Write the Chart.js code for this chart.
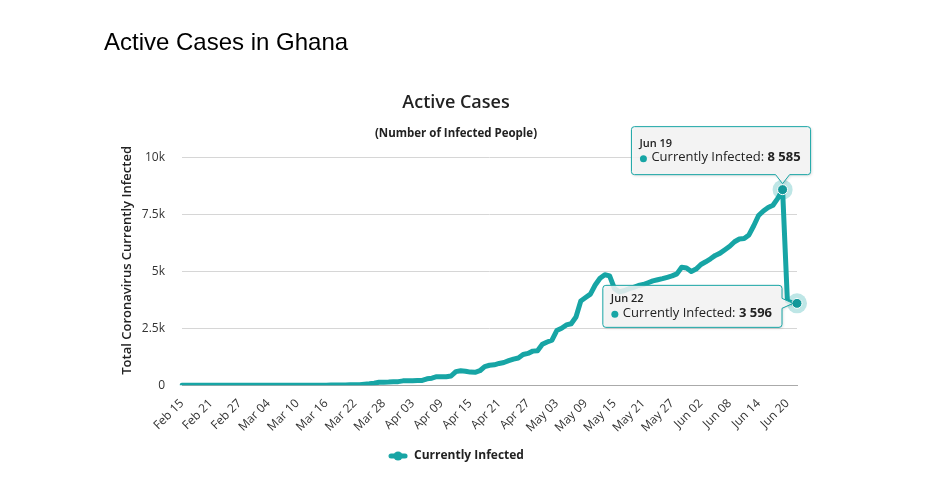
<!DOCTYPE html>
<html>
<head>
<meta charset="utf-8">
<title>Active Cases in Ghana</title>
<script src="https://cdn.jsdelivr.net/npm/chart.js@4.4.1/dist/chart.umd.min.js"></script>
<style>
  html, body { margin: 0; padding: 0; background: #fff; }
  #heading {
    position: absolute; left: 104px; top: 28px;
    font: 24px "Liberation Sans", Arial, sans-serif; line-height: 28px;
    color: #000; z-index: 2;
  }
  #wrap { position: absolute; left: 0; top: 0; width: 926px; height: 479px; }
</style>
</head>
<body>
<div id="heading">Active Cases in Ghana</div>
<div id="wrap"><canvas id="activeChart"></canvas></div>
<script>
// categories: one per day, Feb 15 to Jun 22 2020
const monthNames = ['Jan', 'Feb', 'Mar', 'Apr', 'May', 'Jun', 'Jul', 'Aug', 'Sep', 'Oct', 'Nov', 'Dec'];
const startDay = [2020, 1, 15];
const dayCount = 129;

// values
const activeCases = [
    0, 0, 0, 0, 0, 0, 0, 0, 0, 0, 0, 0, 0, 0, 0, 0, 0, 0, 0, 0, 0, 0, 0, 0, 0, 0,
    2, 2, 6, 6, 7, 9, 11, 16, 19, 21,
    24, 27, 52, 68, 93, 132, 137, 141, 152, 161,
    195, 204, 205, 214, 214, 287, 313, 378, 378, 378,
    408, 600, 640, 620, 580, 570, 640, 820, 880, 900,
    960, 1000, 1080, 1150, 1200, 1350, 1400, 1500, 1520, 1800,
    1900, 1980, 2400, 2500, 2650, 2700, 3000, 3700, 3850, 4000,
    4400, 4700, 4850, 4800, 4250, 4100, 4150, 4240, 4300, 4380,
    4420, 4500, 4580, 4630, 4680, 4740, 4800, 4890, 5180, 5150,
    4990, 5100, 5300, 5420, 5550, 5700, 5800, 5950, 6100, 6300,
    6420, 6440, 6600, 7000, 7450, 7650, 7800, 7900, 8200, 8585,
    3700, 3620, 3596
];

const yTicks = [0, 2500, 5000, 7500, 10000];
const highlighted = [125, 128];
const seriesName = 'Currently Infected';
const yTitle = 'Total Coronavirus Currently Infected';
const teal = '#17a5a5';

const dates = [];
for (let i = 0; i < dayCount; i++) {
    const d = new Date(startDay[0], startDay[1], startDay[2] + i);
    dates.push(monthNames[d.getMonth()] + ' ' + String(d.getDate()).padStart(2, '0'));
}

function fmt(v) {
    return String(v).replace(/\B(?=(\d{3})+(?!\d))/g, ' ');
}

Chart.defaults.font.family = "'Open Sans', sans-serif";
Chart.defaults.color = '#333';

// legend symbol: thick line with a round marker
const legendIcon = document.createElement('canvas');
legendIcon.width = 20;
legendIcon.height = 12;
(function () {
    const c = legendIcon.getContext('2d');
    c.strokeStyle = teal;
    c.lineWidth = 5;
    c.lineCap = 'round';
    c.beginPath();
    c.moveTo(3, 6);
    c.lineTo(17, 6);
    c.stroke();
    c.fillStyle = teal;
    c.beginPath();
    c.arc(10, 6, 4.5, 0, Math.PI * 2);
    c.fill();
})();

function tipPath(ctx, x, y, w, h, r, side, tx, ty) {
    ctx.beginPath();
    ctx.moveTo(x + r, y);
    ctx.lineTo(x + w - r, y);
    ctx.arcTo(x + w, y, x + w, y + r, r);
    if (side === 'right') {
        ctx.lineTo(x + w, ty - 5);
        ctx.lineTo(tx, ty);
        ctx.lineTo(x + w, ty + 5);
    }
    ctx.lineTo(x + w, y + h - r);
    ctx.arcTo(x + w, y + h, x + w - r, y + h, r);
    if (side === 'bottom') {
        ctx.lineTo(tx + 7, y + h);
        ctx.lineTo(tx, ty);
        ctx.lineTo(tx - 7, y + h);
    }
    ctx.lineTo(x + r, y + h);
    ctx.arcTo(x, y + h, x, y + h - r, r);
    ctx.lineTo(x, y + r);
    ctx.arcTo(x, y, x + r, y, r);
    ctx.closePath();
}

function drawTooltip(ctx, p, idx, side) {
    const value = activeCases[idx];
    ctx.save();
    ctx.font = "13px 'Open Sans'";
    const w1 = ctx.measureText('Currently Infected: ').width;
    ctx.font = "bold 13px 'Open Sans'";
    const w2 = ctx.measureText(fmt(value)).width;
    const w = 8 + 12 + w1 + w2 + 10;
    let x, y, h, tx, ty;
    if (side === 'bottom') {
        h = 48;
        x = p.x - w + 28;
        y = p.y - 63;
        tx = p.x;
        ty = p.y - 6;
    } else {
        h = 42;
        x = p.x - w - 15;
        y = p.y - 18;
        tx = p.x - 4;
        ty = p.y;
    }
    ctx.shadowColor = 'rgba(0,0,0,0.18)';
    ctx.shadowOffsetX = 1;
    ctx.shadowOffsetY = 1;
    ctx.shadowBlur = 3;
    tipPath(ctx, x, y, w, h, 3, side, tx, ty);
    ctx.fillStyle = 'rgba(247,247,247,0.85)';
    ctx.fill();
    ctx.shadowColor = 'transparent';
    ctx.strokeStyle = teal;
    ctx.lineWidth = 1;
    ctx.stroke();

    const l1 = side === 'bottom' ? y + 17 : y + 14;
    const l2 = side === 'bottom' ? y + 31 : y + 28;
    ctx.textBaseline = 'middle';
    ctx.textAlign = 'left';
    ctx.fillStyle = '#222';
    ctx.font = "600 11px 'Open Sans'";
    ctx.fillText(dates[idx], x + 8, l1);
    ctx.fillStyle = teal;
    ctx.beginPath();
    ctx.arc(x + 12, l2 + 1, 3.5, 0, Math.PI * 2);
    ctx.fill();
    ctx.fillStyle = '#222';
    ctx.font = "13px 'Open Sans'";
    ctx.fillText('Currently Infected: ', x + 20, l2);
    ctx.font = "bold 13px 'Open Sans'";
    ctx.fillText(fmt(value), x + 20 + w1, l2);
    ctx.restore();
}

const hoverPlugin = {
    id: 'hoverPlugin',
    afterDraw(chart) {
        const ctx = chart.ctx;
        const meta = chart.getDatasetMeta(0);

        // y axis title, sitting a little above the plot middle as in the original
        ctx.save();
        ctx.translate(chart.scales.y.left + 12, (chart.chartArea.top + chart.chartArea.bottom) / 2 - 11);
        ctx.rotate(-Math.PI / 2);
        ctx.textAlign = 'center';
        ctx.textBaseline = 'middle';
        ctx.fillStyle = '#222';
        ctx.font = "600 13px 'Open Sans'";
        ctx.fillText(yTitle, 0, 0);
        ctx.restore();

        highlighted.forEach(function (idx) {
            const p = meta.data[idx];
            ctx.save();
            ctx.fillStyle = 'rgba(23,165,165,0.28)';
            ctx.beginPath();
            ctx.arc(p.x, p.y, 10, 0, Math.PI * 2);
            ctx.fill();
            ctx.fillStyle = '#13989a';
            ctx.strokeStyle = '#ffffff';
            ctx.lineWidth = 1;
            ctx.beginPath();
            ctx.arc(p.x, p.y, 5, 0, Math.PI * 2);
            ctx.fill();
            ctx.stroke();
            ctx.restore();
        });
        drawTooltip(ctx, meta.data[125], 125, 'bottom');
        drawTooltip(ctx, meta.data[128], 128, 'right');
    }
};

const ctx = document.getElementById('activeChart').getContext('2d');
const activeChart = new Chart(ctx, {
    type: 'line',
    data: {
        labels: dates,
        datasets: [{
            label: seriesName,
            data: activeCases,
            borderColor: teal,
            backgroundColor: teal,
            borderWidth: 5,
            borderJoinStyle: 'round',
            borderCapStyle: 'round',
            tension: 0,
            pointRadius: 0,
            fill: false
        }]
    },
    options: {
        responsive: true,
        maintainAspectRatio: false,
        animation: false,
        events: [],
        layout: {
            padding: { left: 115, right: 129, top: 0, bottom: 7 }
        },
        plugins: {
            title: {
                display: true,
                text: 'Active Cases',
                color: '#222',
                font: { size: 18, weight: '600' },
                padding: { top: 92, bottom: 13 }
            },
            subtitle: {
                display: true,
                text: '(Number of Infected People)',
                color: '#222',
                font: { size: 11.5, weight: 'bold' },
                padding: { top: 0, bottom: 17 }
            },
            legend: {
                position: 'bottom',
                labels: {
                    usePointStyle: true,
                    pointStyle: legendIcon,
                    pointStyleWidth: 20,
                    color: '#222',
                    font: { size: 12, weight: 'bold' },
                    padding: 12
                }
            },
            tooltip: { enabled: false }
        },
        scales: {
            x: {
                grid: { display: false },
                border: { display: true, color: '#aaa' },
                ticks: {
                    autoSkip: false,
                    maxRotation: 45,
                    minRotation: 45,
                    color: '#333',
                    font: { size: 12 },
                    padding: 3,
                    callback: function (val, i) {
                        return i % 6 === 0 ? dates[i] : null;
                    }
                }
            },
            y: {
                min: yTicks[0],
                max: yTicks[yTicks.length - 1],
                afterFit: function (scale) { scale.width = 67; },
                afterBuildTicks: function (scale) {
                    scale.ticks = yTicks.map(function (v) { return { value: v }; });
                },
                grid: { color: '#d6d6d6', drawTicks: false },
                border: { display: false },
                ticks: {
                    color: '#333',
                    font: { size: 12 },
                    padding: 17,
                    callback: function (v) {
                        return v === 0 ? '0' : (v / 1000) + 'k';
                    }
                }
            }
        }
    },
    plugins: [hoverPlugin]
});
</script>
</body>
</html>
